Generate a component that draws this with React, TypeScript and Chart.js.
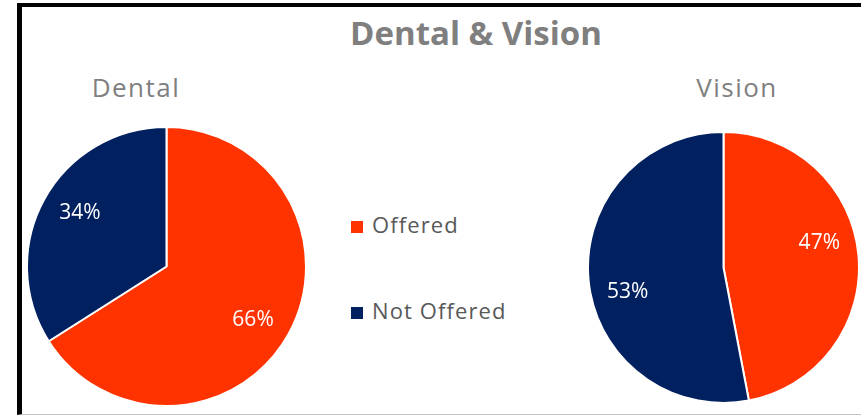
import React, { useEffect, useRef } from 'react';
import { Chart, registerables } from 'chart.js';

Chart.register(...registerables);

const categories: string[] = ['Offered', 'Not Offered'];
const dentalValues: number[] = [66, 34];
const visionValues: number[] = [47, 53];
const sliceColors: string[] = ['#FF3300', '#002060'];
const chartTitle = 'Dental & Vision';
const pieTitles: string[] = ['Dental', 'Vision'];

const FONT = '"Open Sans", "DejaVu Sans", sans-serif';

const pctLabels = {
  id: 'pctLabels',
  afterDatasetsDraw(chart: any, _args: any, opts: any) {
    const ctx = chart.ctx;
    const meta = chart.getDatasetMeta(0);
    const data = chart.data.datasets[0].data as number[];
    const shift = ((opts && opts.angleShift) || 0) * Math.PI / 180;
    ctx.save();
    ctx.font = `21px ${FONT}`;
    ctx.fillStyle = '#ffffff';
    ctx.textAlign = 'center';
    ctx.textBaseline = 'middle';
    meta.data.forEach((arc: any, i: number) => {
      const p = arc.getProps(['x', 'y', 'startAngle', 'endAngle', 'outerRadius'], true);
      const mid = (p.startAngle + p.endAngle) / 2 + shift;
      const r = p.outerRadius * 0.73;
      ctx.fillText(`${data[i]}%`, p.x + Math.cos(mid) * r, p.y + Math.sin(mid) * r);
    });
    ctx.restore();
  },
};

function PieChart({ values, left, top, size, angleShift }: { values: number[]; left: number; top: number; size: number; angleShift: number }) {
  const ref = useRef<HTMLCanvasElement | null>(null);
  useEffect(() => {
    if (!ref.current) return;
    const chart = new Chart(ref.current, {
      type: 'pie',
      data: {
        labels: categories,
        datasets: [
          {
            data: values,
            backgroundColor: sliceColors,
            borderColor: '#ffffff',
            borderWidth: 2,
          },
        ],
      },
      options: {
        responsive: false,
        animation: false,
        layout: { padding: 0 },
        plugins: {
          legend: { display: false },
          title: { display: false },
          tooltip: { enabled: false },
          pctLabels: { angleShift },
        } as any,
      },
      plugins: [pctLabels],
    });
    return () => chart.destroy();
  }, [values, angleShift]);
  return (
    <canvas
      ref={ref}
      width={size}
      height={size}
      style={{ position: 'absolute', left, top, width: size, height: size }}
    />
  );
}

export default function App() {
  return (
    <div
      style={{
        position: 'absolute',
        left: 0,
        top: 0,
        width: 861,
        height: 416,
        background: '#ffffff',
        overflow: 'hidden',
        fontFamily: FONT,
      }}
    >
      <div
        style={{
          position: 'absolute',
          left: 17,
          top: 3,
          width: 900,
          height: 412,
          boxSizing: 'border-box',
          borderLeft: '5px solid #000',
          borderTop: '4px solid #000',
          borderBottom: '1px solid #c4c4c4',
        }}
      />
      <div
        style={{
          position: 'absolute',
          left: 276,
          width: 400,
          top: 10,
          textAlign: 'center',
          fontSize: 33,
          fontWeight: 700,
          color: '#7f7f7f',
          lineHeight: 'normal',
          whiteSpace: 'nowrap',
        }}
      >
        {chartTitle}
      </div>
      <div
        style={{
          position: 'absolute',
          left: 36,
          width: 200,
          top: 69,
          textAlign: 'center',
          fontSize: 26,
          letterSpacing: 1.5,
          color: '#7f7f7f',
          lineHeight: 'normal',
        }}
      >
        {pieTitles[0]}
      </div>
      <div
        style={{
          position: 'absolute',
          left: 637,
          width: 200,
          top: 69,
          textAlign: 'center',
          fontSize: 26,
          letterSpacing: 1.5,
          color: '#7f7f7f',
          lineHeight: 'normal',
        }}
      >
        {pieTitles[1]}
      </div>
      {categories.map((c, i) => (
        <div
          key={c}
          style={{
            position: 'absolute',
            left: 351,
            top: i === 0 ? 209 : 295,
            display: 'flex',
            alignItems: 'baseline',
            whiteSpace: 'nowrap',
          }}
        >
          <span
            style={{
              display: 'inline-block',
              width: 12,
              height: 12,
              background: sliceColors[i],
              marginRight: 9,
            }}
          />
          <span style={{ fontSize: 22, letterSpacing: 1.1, color: '#595959', lineHeight: 'normal' }}>{c}</span>
        </div>
      ))}
      <PieChart values={dentalValues} left={26} top={126} size={281} angleShift={3} />
      <PieChart values={visionValues} left={587} top={131} size={273} angleShift={-9} />
    </div>
  );
}
